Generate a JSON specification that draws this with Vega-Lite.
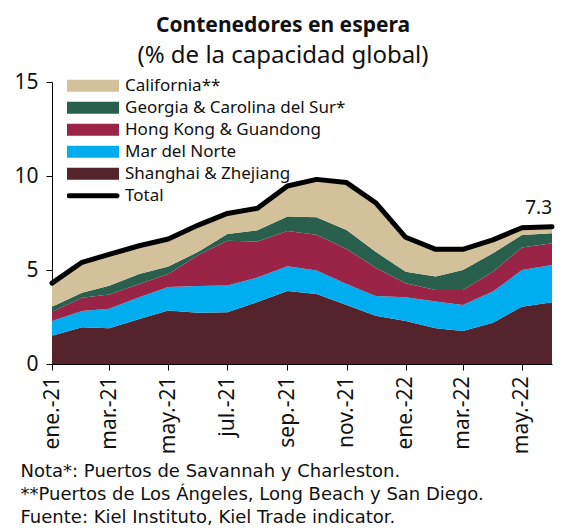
{
  "$schema": "https://vega.github.io/schema/vega-lite/v6.json",
  "width": 500,
  "height": 282,
  "autosize": {"type": "none"},
  "padding": {"left": 52, "top": 82, "right": 14, "bottom": 168},
  "background": "white",
  "config": {"view": {"stroke": null}, "font": "Noto Sans"},
  "title": {
    "text": "Contenedores en espera",
    "subtitle": "(% de la capacidad global)",
    "anchor": "middle",
    "dx": -19,
    "font": "Noto Sans",
    "fontSize": 21,
    "fontWeight": "bold",
    "color": "#111",
    "subtitleFont": "Noto Sans",
    "subtitleFontSize": 24,
    "subtitleColor": "#111",
    "subtitlePadding": 8,
    "offset": 3
  },
  "datasets": {
    "total": [
      {"fecha": "2021-01-01T00:00", "total": 4.3},
      {"fecha": "2021-02-01T00:00", "total": 5.41},
      {"fecha": "2021-03-01T00:00", "total": 5.83},
      {"fecha": "2021-04-01T00:00", "total": 6.29},
      {"fecha": "2021-05-01T00:00", "total": 6.65},
      {"fecha": "2021-06-01T00:00", "total": 7.39},
      {"fecha": "2021-07-01T00:00", "total": 8.01},
      {"fecha": "2021-08-01T00:00", "total": 8.28},
      {"fecha": "2021-09-01T00:00", "total": 9.47},
      {"fecha": "2021-10-01T00:00", "total": 9.82},
      {"fecha": "2021-11-01T00:00", "total": 9.65},
      {"fecha": "2021-12-01T00:00", "total": 8.58},
      {"fecha": "2022-01-01T00:00", "total": 6.74},
      {"fecha": "2022-02-01T00:00", "total": 6.1},
      {"fecha": "2022-03-01T00:00", "total": 6.1},
      {"fecha": "2022-04-01T00:00", "total": 6.6},
      {"fecha": "2022-05-01T00:00", "total": 7.25},
      {"fecha": "2022-06-01T00:00", "total": 7.3}
    ],
    "series": [
      {"fecha": "2021-01-01T00:00", "serie": "Shanghai & Zhejiang", "valor": 1.5},
      {"fecha": "2021-02-01T00:00", "serie": "Shanghai & Zhejiang", "valor": 1.95},
      {"fecha": "2021-03-01T00:00", "serie": "Shanghai & Zhejiang", "valor": 1.9},
      {"fecha": "2021-04-01T00:00", "serie": "Shanghai & Zhejiang", "valor": 2.4},
      {"fecha": "2021-05-01T00:00", "serie": "Shanghai & Zhejiang", "valor": 2.85},
      {"fecha": "2021-06-01T00:00", "serie": "Shanghai & Zhejiang", "valor": 2.73},
      {"fecha": "2021-07-01T00:00", "serie": "Shanghai & Zhejiang", "valor": 2.75},
      {"fecha": "2021-08-01T00:00", "serie": "Shanghai & Zhejiang", "valor": 3.3},
      {"fecha": "2021-09-01T00:00", "serie": "Shanghai & Zhejiang", "valor": 3.88},
      {"fecha": "2021-10-01T00:00", "serie": "Shanghai & Zhejiang", "valor": 3.72},
      {"fecha": "2021-11-01T00:00", "serie": "Shanghai & Zhejiang", "valor": 3.14},
      {"fecha": "2021-12-01T00:00", "serie": "Shanghai & Zhejiang", "valor": 2.57},
      {"fecha": "2022-01-01T00:00", "serie": "Shanghai & Zhejiang", "valor": 2.29},
      {"fecha": "2022-02-01T00:00", "serie": "Shanghai & Zhejiang", "valor": 1.9},
      {"fecha": "2022-03-01T00:00", "serie": "Shanghai & Zhejiang", "valor": 1.76},
      {"fecha": "2022-04-01T00:00", "serie": "Shanghai & Zhejiang", "valor": 2.2},
      {"fecha": "2022-05-01T00:00", "serie": "Shanghai & Zhejiang", "valor": 3.05},
      {"fecha": "2022-06-01T00:00", "serie": "Shanghai & Zhejiang", "valor": 3.28},
      {"fecha": "2021-01-01T00:00", "serie": "Mar del Norte", "valor": 0.79},
      {"fecha": "2021-02-01T00:00", "serie": "Mar del Norte", "valor": 0.87},
      {"fecha": "2021-03-01T00:00", "serie": "Mar del Norte", "valor": 1.04},
      {"fecha": "2021-04-01T00:00", "serie": "Mar del Norte", "valor": 1.15},
      {"fecha": "2021-05-01T00:00", "serie": "Mar del Norte", "valor": 1.25},
      {"fecha": "2021-06-01T00:00", "serie": "Mar del Norte", "valor": 1.42},
      {"fecha": "2021-07-01T00:00", "serie": "Mar del Norte", "valor": 1.43},
      {"fecha": "2021-08-01T00:00", "serie": "Mar del Norte", "valor": 1.3},
      {"fecha": "2021-09-01T00:00", "serie": "Mar del Norte", "valor": 1.32},
      {"fecha": "2021-10-01T00:00", "serie": "Mar del Norte", "valor": 1.25},
      {"fecha": "2021-11-01T00:00", "serie": "Mar del Norte", "valor": 1.12},
      {"fecha": "2021-12-01T00:00", "serie": "Mar del Norte", "valor": 1.05},
      {"fecha": "2022-01-01T00:00", "serie": "Mar del Norte", "valor": 1.26},
      {"fecha": "2022-02-01T00:00", "serie": "Mar del Norte", "valor": 1.43},
      {"fecha": "2022-03-01T00:00", "serie": "Mar del Norte", "valor": 1.38},
      {"fecha": "2022-04-01T00:00", "serie": "Mar del Norte", "valor": 1.65},
      {"fecha": "2022-05-01T00:00", "serie": "Mar del Norte", "valor": 1.95},
      {"fecha": "2022-06-01T00:00", "serie": "Mar del Norte", "valor": 1.99},
      {"fecha": "2021-01-01T00:00", "serie": "Hong Kong & Guandong", "valor": 0.49},
      {"fecha": "2021-02-01T00:00", "serie": "Hong Kong & Guandong", "valor": 0.71},
      {"fecha": "2021-03-01T00:00", "serie": "Hong Kong & Guandong", "valor": 0.76},
      {"fecha": "2021-04-01T00:00", "serie": "Hong Kong & Guandong", "valor": 0.71},
      {"fecha": "2021-05-01T00:00", "serie": "Hong Kong & Guandong", "valor": 0.69},
      {"fecha": "2021-06-01T00:00", "serie": "Hong Kong & Guandong", "valor": 1.65},
      {"fecha": "2021-07-01T00:00", "serie": "Hong Kong & Guandong", "valor": 2.38},
      {"fecha": "2021-08-01T00:00", "serie": "Hong Kong & Guandong", "valor": 1.92},
      {"fecha": "2021-09-01T00:00", "serie": "Hong Kong & Guandong", "valor": 1.87},
      {"fecha": "2021-10-01T00:00", "serie": "Hong Kong & Guandong", "valor": 1.9},
      {"fecha": "2021-11-01T00:00", "serie": "Hong Kong & Guandong", "valor": 1.86},
      {"fecha": "2021-12-01T00:00", "serie": "Hong Kong & Guandong", "valor": 1.5},
      {"fecha": "2022-01-01T00:00", "serie": "Hong Kong & Guandong", "valor": 0.74},
      {"fecha": "2022-02-01T00:00", "serie": "Hong Kong & Guandong", "valor": 0.61},
      {"fecha": "2022-03-01T00:00", "serie": "Hong Kong & Guandong", "valor": 0.8},
      {"fecha": "2022-04-01T00:00", "serie": "Hong Kong & Guandong", "valor": 1.06},
      {"fecha": "2022-05-01T00:00", "serie": "Hong Kong & Guandong", "valor": 1.2},
      {"fecha": "2022-06-01T00:00", "serie": "Hong Kong & Guandong", "valor": 1.15},
      {"fecha": "2021-01-01T00:00", "serie": "Georgia & Carolina del Sur*", "valor": 0.27},
      {"fecha": "2021-02-01T00:00", "serie": "Georgia & Carolina del Sur*", "valor": 0.26},
      {"fecha": "2021-03-01T00:00", "serie": "Georgia & Carolina del Sur*", "valor": 0.46},
      {"fecha": "2021-04-01T00:00", "serie": "Georgia & Carolina del Sur*", "valor": 0.53},
      {"fecha": "2021-05-01T00:00", "serie": "Georgia & Carolina del Sur*", "valor": 0.39},
      {"fecha": "2021-06-01T00:00", "serie": "Georgia & Carolina del Sur*", "valor": 0.17},
      {"fecha": "2021-07-01T00:00", "serie": "Georgia & Carolina del Sur*", "valor": 0.35},
      {"fecha": "2021-08-01T00:00", "serie": "Georgia & Carolina del Sur*", "valor": 0.59},
      {"fecha": "2021-09-01T00:00", "serie": "Georgia & Carolina del Sur*", "valor": 0.77},
      {"fecha": "2021-10-01T00:00", "serie": "Georgia & Carolina del Sur*", "valor": 0.94},
      {"fecha": "2021-11-01T00:00", "serie": "Georgia & Carolina del Sur*", "valor": 1.01},
      {"fecha": "2021-12-01T00:00", "serie": "Georgia & Carolina del Sur*", "valor": 0.85},
      {"fecha": "2022-01-01T00:00", "serie": "Georgia & Carolina del Sur*", "valor": 0.62},
      {"fecha": "2022-02-01T00:00", "serie": "Georgia & Carolina del Sur*", "valor": 0.71},
      {"fecha": "2022-03-01T00:00", "serie": "Georgia & Carolina del Sur*", "valor": 1.06},
      {"fecha": "2022-04-01T00:00", "serie": "Georgia & Carolina del Sur*", "valor": 0.98},
      {"fecha": "2022-05-01T00:00", "serie": "Georgia & Carolina del Sur*", "valor": 0.66},
      {"fecha": "2022-06-01T00:00", "serie": "Georgia & Carolina del Sur*", "valor": 0.53},
      {"fecha": "2021-01-01T00:00", "serie": "California**", "valor": 1.25},
      {"fecha": "2021-02-01T00:00", "serie": "California**", "valor": 1.62},
      {"fecha": "2021-03-01T00:00", "serie": "California**", "valor": 1.67},
      {"fecha": "2021-04-01T00:00", "serie": "California**", "valor": 1.5},
      {"fecha": "2021-05-01T00:00", "serie": "California**", "valor": 1.47},
      {"fecha": "2021-06-01T00:00", "serie": "California**", "valor": 1.42},
      {"fecha": "2021-07-01T00:00", "serie": "California**", "valor": 1.1},
      {"fecha": "2021-08-01T00:00", "serie": "California**", "valor": 1.17},
      {"fecha": "2021-09-01T00:00", "serie": "California**", "valor": 1.63},
      {"fecha": "2021-10-01T00:00", "serie": "California**", "valor": 2.01},
      {"fecha": "2021-11-01T00:00", "serie": "California**", "valor": 2.52},
      {"fecha": "2021-12-01T00:00", "serie": "California**", "valor": 2.61},
      {"fecha": "2022-01-01T00:00", "serie": "California**", "valor": 1.83},
      {"fecha": "2022-02-01T00:00", "serie": "California**", "valor": 1.45},
      {"fecha": "2022-03-01T00:00", "serie": "California**", "valor": 1.1},
      {"fecha": "2022-04-01T00:00", "serie": "California**", "valor": 0.71},
      {"fecha": "2022-05-01T00:00", "serie": "California**", "valor": 0.39},
      {"fecha": "2022-06-01T00:00", "serie": "California**", "valor": 0.35}
    ]
  },
  "layer": [
    {
      "data": {"name": "series"},
      "mark": {"type": "area", "interpolate": "linear"},
      "encoding": {
        "x": {
          "field": "fecha",
          "type": "temporal",
          "scale": {"nice": false},
          "axis": {
            "tickCount": {"interval": "month", "step": 2},
            "labelExpr": "['ene.','feb.','mar.','abr.','may.','jun.','jul.','ago.','sep.','oct.','nov.','dic.'][month(datum.value)] + '-' + timeFormat(datum.value, '%y')",
            "labelAngle": -90,
            "labelAlign": "right",
            "labelBaseline": "middle",
            "labelFontSize": 21,
            "labelColor": "#111",
            "labelFlush": false,
            "labelOverlap": false,
            "labelBound": false,
            "labelPadding": 6,
            "tickSize": 6,
            "tickColor": "#000",
            "domainColor": "#000",
            "grid": false,
            "title": ["Nota*: Puertos de Savannah y Charleston.", "**Puertos de Los Ángeles, Long Beach y San Diego.", "Fuente: Kiel Instituto, Kiel Trade indicator."],
            "titleAnchor": "start",
            "titleAlign": "left",
            "titleBaseline": "top",
            "titleX": -32,
            "titleY": 98,
            "titleFont": "DejaVu Sans",
            "titleFontSize": 18,
            "titleFontWeight": "normal",
            "titleLineHeight": 23,
            "titleColor": "#111"
          }
        },
        "y": {
          "field": "valor",
          "type": "quantitative",
          "stack": "zero",
          "scale": {"domain": [0, 15], "nice": false},
          "axis": {
            "values": [0, 5, 10, 15],
            "title": null,
            "grid": false,
            "tickSize": 6,
            "tickColor": "#000",
            "domainColor": "#000",
            "labelFontSize": 21,
            "labelColor": "#111",
            "labelPadding": 8
          }
        },
        "order": {"field": "serie", "sort": "descending"},
        "color": {
          "field": "serie",
          "type": "nominal",
          "scale": {
            "domain": ["California**", "Georgia & Carolina del Sur*", "Hong Kong & Guandong", "Mar del Norte", "Shanghai & Zhejiang", "Total"],
            "range": ["#D3C19B", "#29604D", "#9A2447", "#00AEEF", "#55232B", "#000000"]
          },
          "legend": {
            "title": null,
            "orient": "none",
            "legendX": 15,
            "legendY": -7,
            "direction": "vertical",
            "labelFontSize": 17,
            "labelColor": "#111",
            "labelOffset": 6,
            "labelLimit": 0,
            "symbolType": "M-1,-0.23H1V0.23H-1Z",
            "symbolSize": 2704,
            "symbolStrokeWidth": 0,
            "clipHeight": 21.5,
            "rowPadding": 0,
            "encode": {
              "symbols": {
                "update": {
                  "shape": {"signal": "datum.value === 'Total' ? 'M-0.92,-0.1H0.92A0.1,0.1 0 0 1 0.92,0.1H-0.92A0.1,0.1 0 0 1 -0.92,-0.1Z' : 'M-1,-0.23H1V0.23H-1Z'"}
                }
              }
            }
          }
        }
      }
    },
    {
      "data": {"name": "total"},
      "mark": {"type": "line", "color": "#000", "strokeWidth": 5, "strokeCap": "round", "strokeJoin": "round"},
      "encoding": {
        "x": {"field": "fecha", "type": "temporal"},
        "y": {"field": "total", "type": "quantitative"}
      }
    },
    {
      "data": {"name": "total"},
      "transform": [{"filter": "year(datum.fecha) == 2022 && month(datum.fecha) == 5"}],
      "mark": {"type": "text", "align": "right", "baseline": "alphabetic", "dy": -13, "fontSize": 19, "color": "#111"},
      "encoding": {
        "x": {"field": "fecha", "type": "temporal"},
        "y": {"field": "total", "type": "quantitative"},
        "text": {"field": "total", "type": "quantitative", "format": ".1f"}
      }
    }
  ]
}
